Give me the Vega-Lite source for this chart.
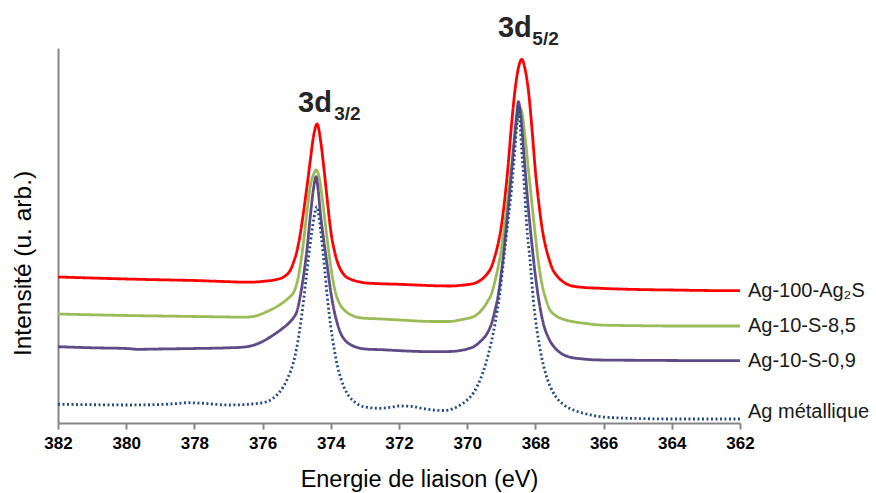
{
  "$schema": "https://vega.github.io/schema/vega-lite/v6.json",
  "width": 682,
  "height": 375,
  "autosize": {"type": "none"},
  "padding": {"left": 58, "top": 48, "right": 136, "bottom": 70},
  "background": "white",
  "config": {"view": {"stroke": null}, "font": "Liberation Sans"},
  "datasets": {
    "spectra": [
      {"series": "Ag-100-Ag₂S", "E": 382, "v": 146}, {"series": "Ag-100-Ag₂S", "E": 381, "v": 145}, {"series": "Ag-100-Ag₂S", "E": 380, "v": 144}, {"series": "Ag-100-Ag₂S", "E": 379, "v": 143.2}, {"series": "Ag-100-Ag₂S", "E": 378, "v": 142.5}, {"series": "Ag-100-Ag₂S", "E": 377, "v": 141.3}, {"series": "Ag-100-Ag₂S", "E": 376.5, "v": 140.8}, {"series": "Ag-100-Ag₂S", "E": 376.2, "v": 141}, {"series": "Ag-100-Ag₂S", "E": 376.0, "v": 141.6}, {"series": "Ag-100-Ag₂S", "E": 375.8, "v": 142.3}, {"series": "Ag-100-Ag₂S", "E": 375.6, "v": 143.4}, {"series": "Ag-100-Ag₂S", "E": 375.4, "v": 145.7}, {"series": "Ag-100-Ag₂S", "E": 375.3, "v": 148.1}, {"series": "Ag-100-Ag₂S", "E": 375.2, "v": 152}, {"series": "Ag-100-Ag₂S", "E": 375.1, "v": 160}, {"series": "Ag-100-Ag₂S", "E": 375.0, "v": 171}, {"series": "Ag-100-Ag₂S", "E": 374.9, "v": 188}, {"series": "Ag-100-Ag₂S", "E": 374.8, "v": 211}, {"series": "Ag-100-Ag₂S", "E": 374.7, "v": 236}, {"series": "Ag-100-Ag₂S", "E": 374.6, "v": 263}, {"series": "Ag-100-Ag₂S", "E": 374.5, "v": 288}, {"series": "Ag-100-Ag₂S", "E": 374.4, "v": 299}, {"series": "Ag-100-Ag₂S", "E": 374.3, "v": 282.5}, {"series": "Ag-100-Ag₂S", "E": 374.2, "v": 254}, {"series": "Ag-100-Ag₂S", "E": 374.1, "v": 222}, {"series": "Ag-100-Ag₂S", "E": 374.0, "v": 192}, {"series": "Ag-100-Ag₂S", "E": 373.9, "v": 173}, {"series": "Ag-100-Ag₂S", "E": 373.8, "v": 160.5}, {"series": "Ag-100-Ag₂S", "E": 373.7, "v": 152.5}, {"series": "Ag-100-Ag₂S", "E": 373.6, "v": 147.7}, {"series": "Ag-100-Ag₂S", "E": 373.4, "v": 143.6}, {"series": "Ag-100-Ag₂S", "E": 373.2, "v": 141.4}, {"series": "Ag-100-Ag₂S", "E": 373.0, "v": 140.2}, {"series": "Ag-100-Ag₂S", "E": 372.5, "v": 139.2}, {"series": "Ag-100-Ag₂S", "E": 372, "v": 138.7}, {"series": "Ag-100-Ag₂S", "E": 371.5, "v": 138}, {"series": "Ag-100-Ag₂S", "E": 371, "v": 137.3}, {"series": "Ag-100-Ag₂S", "E": 370.5, "v": 137}, {"series": "Ag-100-Ag₂S", "E": 370.1, "v": 138}, {"series": "Ag-100-Ag₂S", "E": 369.8, "v": 139.6}, {"series": "Ag-100-Ag₂S", "E": 369.6, "v": 143}, {"series": "Ag-100-Ag₂S", "E": 369.4, "v": 149.8}, {"series": "Ag-100-Ag₂S", "E": 369.3, "v": 155.3}, {"series": "Ag-100-Ag₂S", "E": 369.2, "v": 165.3}, {"series": "Ag-100-Ag₂S", "E": 369.1, "v": 178.3}, {"series": "Ag-100-Ag₂S", "E": 369.0, "v": 196.3}, {"series": "Ag-100-Ag₂S", "E": 368.9, "v": 223.3}, {"series": "Ag-100-Ag₂S", "E": 368.8, "v": 257.3}, {"series": "Ag-100-Ag₂S", "E": 368.7, "v": 298.3}, {"series": "Ag-100-Ag₂S", "E": 368.6, "v": 332.3}, {"series": "Ag-100-Ag₂S", "E": 368.5, "v": 354.8}, {"series": "Ag-100-Ag₂S", "E": 368.4, "v": 363.7}, {"series": "Ag-100-Ag₂S", "E": 368.3, "v": 353.5}, {"series": "Ag-100-Ag₂S", "E": 368.2, "v": 331}, {"series": "Ag-100-Ag₂S", "E": 368.1, "v": 294}, {"series": "Ag-100-Ag₂S", "E": 368.0, "v": 252}, {"series": "Ag-100-Ag₂S", "E": 367.9, "v": 220}, {"series": "Ag-100-Ag₂S", "E": 367.8, "v": 194}, {"series": "Ag-100-Ag₂S", "E": 367.7, "v": 176.5}, {"series": "Ag-100-Ag₂S", "E": 367.6, "v": 164}, {"series": "Ag-100-Ag₂S", "E": 367.5, "v": 154}, {"series": "Ag-100-Ag₂S", "E": 367.4, "v": 148.5}, {"series": "Ag-100-Ag₂S", "E": 367.2, "v": 141.5}, {"series": "Ag-100-Ag₂S", "E": 367.0, "v": 137.8}, {"series": "Ag-100-Ag₂S", "E": 366.7, "v": 135.9}, {"series": "Ag-100-Ag₂S", "E": 366.1, "v": 134.7}, {"series": "Ag-100-Ag₂S", "E": 365, "v": 133.5}, {"series": "Ag-100-Ag₂S", "E": 364, "v": 133}, {"series": "Ag-100-Ag₂S", "E": 363, "v": 132.5}, {"series": "Ag-100-Ag₂S", "E": 362, "v": 132.3},

      {"series": "Ag-10-S-8,5", "E": 382, "v": 109}, {"series": "Ag-10-S-8,5", "E": 381, "v": 108.2}, {"series": "Ag-10-S-8,5", "E": 380, "v": 107.5}, {"series": "Ag-10-S-8,5", "E": 379, "v": 107}, {"series": "Ag-10-S-8,5", "E": 378, "v": 106.5}, {"series": "Ag-10-S-8,5", "E": 377, "v": 106}, {"series": "Ag-10-S-8,5", "E": 376.6, "v": 105.8}, {"series": "Ag-10-S-8,5", "E": 376.4, "v": 106}, {"series": "Ag-10-S-8,5", "E": 376.2, "v": 107}, {"series": "Ag-10-S-8,5", "E": 376.0, "v": 109.5}, {"series": "Ag-10-S-8,5", "E": 375.8, "v": 112.5}, {"series": "Ag-10-S-8,5", "E": 375.6, "v": 116}, {"series": "Ag-10-S-8,5", "E": 375.4, "v": 120.5}, {"series": "Ag-10-S-8,5", "E": 375.2, "v": 126.2}, {"series": "Ag-10-S-8,5", "E": 375.1, "v": 130}, {"series": "Ag-10-S-8,5", "E": 375.0, "v": 139}, {"series": "Ag-10-S-8,5", "E": 374.9, "v": 156}, {"series": "Ag-10-S-8,5", "E": 374.8, "v": 181}, {"series": "Ag-10-S-8,5", "E": 374.7, "v": 211}, {"series": "Ag-10-S-8,5", "E": 374.6, "v": 237}, {"series": "Ag-10-S-8,5", "E": 374.5, "v": 249}, {"series": "Ag-10-S-8,5", "E": 374.43, "v": 253}, {"series": "Ag-10-S-8,5", "E": 374.35, "v": 247}, {"series": "Ag-10-S-8,5", "E": 374.25, "v": 224.6}, {"series": "Ag-10-S-8,5", "E": 374.15, "v": 196.2}, {"series": "Ag-10-S-8,5", "E": 374.05, "v": 168.5}, {"series": "Ag-10-S-8,5", "E": 373.95, "v": 145.4}, {"series": "Ag-10-S-8,5", "E": 373.85, "v": 128.9}, {"series": "Ag-10-S-8,5", "E": 373.75, "v": 120}, {"series": "Ag-10-S-8,5", "E": 373.6, "v": 112.8}, {"series": "Ag-10-S-8,5", "E": 373.4, "v": 108}, {"series": "Ag-10-S-8,5", "E": 373.1, "v": 105}, {"series": "Ag-10-S-8,5", "E": 372.5, "v": 104}, {"series": "Ag-10-S-8,5", "E": 371.97, "v": 103}, {"series": "Ag-10-S-8,5", "E": 371, "v": 101.5}, {"series": "Ag-10-S-8,5", "E": 370.5, "v": 101.5}, {"series": "Ag-10-S-8,5", "E": 370.2, "v": 103.2}, {"series": "Ag-10-S-8,5", "E": 370.0, "v": 104.5}, {"series": "Ag-10-S-8,5", "E": 369.8, "v": 106.6}, {"series": "Ag-10-S-8,5", "E": 369.6, "v": 112}, {"series": "Ag-10-S-8,5", "E": 369.4, "v": 121.7}, {"series": "Ag-10-S-8,5", "E": 369.3, "v": 128.1}, {"series": "Ag-10-S-8,5", "E": 369.2, "v": 139.8}, {"series": "Ag-10-S-8,5", "E": 369.1, "v": 154.8}, {"series": "Ag-10-S-8,5", "E": 369.0, "v": 173.9}, {"series": "Ag-10-S-8,5", "E": 368.9, "v": 199.5}, {"series": "Ag-10-S-8,5", "E": 368.8, "v": 229.3}, {"series": "Ag-10-S-8,5", "E": 368.7, "v": 257}, {"series": "Ag-10-S-8,5", "E": 368.6, "v": 284.7}, {"series": "Ag-10-S-8,5", "E": 368.5, "v": 309.2}, {"series": "Ag-10-S-8,5", "E": 368.45, "v": 314.7}, {"series": "Ag-10-S-8,5", "E": 368.4, "v": 311.2}, {"series": "Ag-10-S-8,5", "E": 368.3, "v": 285.2}, {"series": "Ag-10-S-8,5", "E": 368.2, "v": 251.6}, {"series": "Ag-10-S-8,5", "E": 368.1, "v": 219}, {"series": "Ag-10-S-8,5", "E": 368.0, "v": 187}, {"series": "Ag-10-S-8,5", "E": 367.9, "v": 158}, {"series": "Ag-10-S-8,5", "E": 367.8, "v": 137.6}, {"series": "Ag-10-S-8,5", "E": 367.7, "v": 124.6}, {"series": "Ag-10-S-8,5", "E": 367.6, "v": 114.9}, {"series": "Ag-10-S-8,5", "E": 367.4, "v": 107.3}, {"series": "Ag-10-S-8,5", "E": 367.2, "v": 104}, {"series": "Ag-10-S-8,5", "E": 366.9, "v": 101.4}, {"series": "Ag-10-S-8,5", "E": 366.5, "v": 99.5}, {"series": "Ag-10-S-8,5", "E": 366.1, "v": 98}, {"series": "Ag-10-S-8,5", "E": 365, "v": 97.3}, {"series": "Ag-10-S-8,5", "E": 364, "v": 97}, {"series": "Ag-10-S-8,5", "E": 363, "v": 97}, {"series": "Ag-10-S-8,5", "E": 362, "v": 97},

      {"series": "Ag-10-S-0,9", "E": 382, "v": 76.3}, {"series": "Ag-10-S-0,9", "E": 381, "v": 75.2}, {"series": "Ag-10-S-0,9", "E": 380, "v": 74.5}, {"series": "Ag-10-S-0,9", "E": 379.65, "v": 73.7}, {"series": "Ag-10-S-0,9", "E": 379, "v": 74}, {"series": "Ag-10-S-0,9", "E": 378, "v": 74.5}, {"series": "Ag-10-S-0,9", "E": 377, "v": 75.2}, {"series": "Ag-10-S-0,9", "E": 376.6, "v": 75.8}, {"series": "Ag-10-S-0,9", "E": 376.3, "v": 77.5}, {"series": "Ag-10-S-0,9", "E": 376.0, "v": 81.5}, {"series": "Ag-10-S-0,9", "E": 375.8, "v": 85.5}, {"series": "Ag-10-S-0,9", "E": 375.6, "v": 90}, {"series": "Ag-10-S-0,9", "E": 375.4, "v": 95}, {"series": "Ag-10-S-0,9", "E": 375.2, "v": 101}, {"series": "Ag-10-S-0,9", "E": 375.1, "v": 105}, {"series": "Ag-10-S-0,9", "E": 375.0, "v": 111}, {"series": "Ag-10-S-0,9", "E": 374.9, "v": 126}, {"series": "Ag-10-S-0,9", "E": 374.8, "v": 147}, {"series": "Ag-10-S-0,9", "E": 374.7, "v": 173}, {"series": "Ag-10-S-0,9", "E": 374.6, "v": 207}, {"series": "Ag-10-S-0,9", "E": 374.5, "v": 236}, {"series": "Ag-10-S-0,9", "E": 374.43, "v": 246.3}, {"series": "Ag-10-S-0,9", "E": 374.38, "v": 236}, {"series": "Ag-10-S-0,9", "E": 374.3, "v": 208}, {"series": "Ag-10-S-0,9", "E": 374.2, "v": 181}, {"series": "Ag-10-S-0,9", "E": 374.1, "v": 156}, {"series": "Ag-10-S-0,9", "E": 374.0, "v": 131}, {"series": "Ag-10-S-0,9", "E": 373.9, "v": 112}, {"series": "Ag-10-S-0,9", "E": 373.8, "v": 98.5}, {"series": "Ag-10-S-0,9", "E": 373.7, "v": 89}, {"series": "Ag-10-S-0,9", "E": 373.6, "v": 83.5}, {"series": "Ag-10-S-0,9", "E": 373.4, "v": 78}, {"series": "Ag-10-S-0,9", "E": 373.2, "v": 75.3}, {"series": "Ag-10-S-0,9", "E": 373.0, "v": 74}, {"series": "Ag-10-S-0,9", "E": 372.5, "v": 73.3}, {"series": "Ag-10-S-0,9", "E": 371.97, "v": 72.3}, {"series": "Ag-10-S-0,9", "E": 371, "v": 71.3}, {"series": "Ag-10-S-0,9", "E": 370.5, "v": 71.5}, {"series": "Ag-10-S-0,9", "E": 370.2, "v": 72.5}, {"series": "Ag-10-S-0,9", "E": 370.0, "v": 74}, {"series": "Ag-10-S-0,9", "E": 369.8, "v": 76.5}, {"series": "Ag-10-S-0,9", "E": 369.6, "v": 82}, {"series": "Ag-10-S-0,9", "E": 369.4, "v": 90.5}, {"series": "Ag-10-S-0,9", "E": 369.3, "v": 98}, {"series": "Ag-10-S-0,9", "E": 369.2, "v": 110.5}, {"series": "Ag-10-S-0,9", "E": 369.1, "v": 126}, {"series": "Ag-10-S-0,9", "E": 369.0, "v": 150}, {"series": "Ag-10-S-0,9", "E": 368.9, "v": 180}, {"series": "Ag-10-S-0,9", "E": 368.8, "v": 214}, {"series": "Ag-10-S-0,9", "E": 368.7, "v": 251}, {"series": "Ag-10-S-0,9", "E": 368.6, "v": 291}, {"series": "Ag-10-S-0,9", "E": 368.55, "v": 308}, {"series": "Ag-10-S-0,9", "E": 368.5, "v": 321.3}, {"series": "Ag-10-S-0,9", "E": 368.45, "v": 314}, {"series": "Ag-10-S-0,9", "E": 368.4, "v": 297}, {"series": "Ag-10-S-0,9", "E": 368.35, "v": 275}, {"series": "Ag-10-S-0,9", "E": 368.3, "v": 253}, {"series": "Ag-10-S-0,9", "E": 368.21, "v": 216}, {"series": "Ag-10-S-0,9", "E": 368.1, "v": 178}, {"series": "Ag-10-S-0,9", "E": 368.01, "v": 150}, {"series": "Ag-10-S-0,9", "E": 367.9, "v": 123}, {"series": "Ag-10-S-0,9", "E": 367.77, "v": 100}, {"series": "Ag-10-S-0,9", "E": 367.6, "v": 84}, {"series": "Ag-10-S-0,9", "E": 367.45, "v": 76}, {"series": "Ag-10-S-0,9", "E": 367.28, "v": 70.5}, {"series": "Ag-10-S-0,9", "E": 367.0, "v": 66}, {"series": "Ag-10-S-0,9", "E": 366.6, "v": 64}, {"series": "Ag-10-S-0,9", "E": 366.1, "v": 63}, {"series": "Ag-10-S-0,9", "E": 365, "v": 62.7}, {"series": "Ag-10-S-0,9", "E": 364, "v": 62.5}, {"series": "Ag-10-S-0,9", "E": 363, "v": 62.4}, {"series": "Ag-10-S-0,9", "E": 362, "v": 62.3},

      {"series": "Ag métallique", "E": 382, "v": 18.7}, {"series": "Ag métallique", "E": 381, "v": 18.3}, {"series": "Ag métallique", "E": 380, "v": 18}, {"series": "Ag métallique", "E": 379, "v": 18.5}, {"series": "Ag métallique", "E": 378.5, "v": 19.5}, {"series": "Ag métallique", "E": 378.2, "v": 20.3}, {"series": "Ag métallique", "E": 377.8, "v": 19.8}, {"series": "Ag métallique", "E": 377.5, "v": 19}, {"series": "Ag métallique", "E": 377, "v": 18}, {"series": "Ag métallique", "E": 376.6, "v": 18.3}, {"series": "Ag métallique", "E": 376.3, "v": 19}, {"series": "Ag métallique", "E": 376.05, "v": 20}, {"series": "Ag métallique", "E": 375.88, "v": 21.3}, {"series": "Ag métallique", "E": 375.7, "v": 24.5}, {"series": "Ag métallique", "E": 375.5, "v": 31}, {"series": "Ag métallique", "E": 375.39, "v": 36.3}, {"series": "Ag métallique", "E": 375.25, "v": 46}, {"series": "Ag métallique", "E": 375.1, "v": 60}, {"series": "Ag métallique", "E": 375.0, "v": 75}, {"series": "Ag métallique", "E": 374.9, "v": 96}, {"series": "Ag métallique", "E": 374.8, "v": 122}, {"series": "Ag métallique", "E": 374.7, "v": 152}, {"series": "Ag métallique", "E": 374.6, "v": 180}, {"series": "Ag métallique", "E": 374.5, "v": 204}, {"series": "Ag métallique", "E": 374.41, "v": 216.3}, {"series": "Ag métallique", "E": 374.34, "v": 205}, {"series": "Ag métallique", "E": 374.27, "v": 184}, {"series": "Ag métallique", "E": 374.18, "v": 154}, {"series": "Ag métallique", "E": 374.1, "v": 125}, {"series": "Ag métallique", "E": 374.0, "v": 96}, {"series": "Ag métallique", "E": 373.9, "v": 74}, {"series": "Ag métallique", "E": 373.8, "v": 56}, {"series": "Ag métallique", "E": 373.7, "v": 44}, {"series": "Ag métallique", "E": 373.53, "v": 30}, {"series": "Ag métallique", "E": 373.3, "v": 21}, {"series": "Ag métallique", "E": 373.05, "v": 16.3}, {"series": "Ag métallique", "E": 372.56, "v": 14.7}, {"series": "Ag métallique", "E": 372.2, "v": 16}, {"series": "Ag métallique", "E": 372, "v": 17}, {"series": "Ag métallique", "E": 371.6, "v": 16.5}, {"series": "Ag métallique", "E": 371.3, "v": 14.5}, {"series": "Ag métallique", "E": 371, "v": 13}, {"series": "Ag métallique", "E": 370.7, "v": 12.5}, {"series": "Ag métallique", "E": 370.4, "v": 14.5}, {"series": "Ag métallique", "E": 370.2, "v": 18}, {"series": "Ag métallique", "E": 370.0, "v": 23}, {"series": "Ag métallique", "E": 369.8, "v": 31}, {"series": "Ag métallique", "E": 369.6, "v": 45}, {"series": "Ag métallique", "E": 369.45, "v": 60}, {"series": "Ag métallique", "E": 369.3, "v": 80}, {"series": "Ag métallique", "E": 369.18, "v": 100}, {"series": "Ag métallique", "E": 369.05, "v": 128}, {"series": "Ag métallique", "E": 368.9, "v": 173}, {"series": "Ag métallique", "E": 368.8, "v": 203}, {"series": "Ag métallique", "E": 368.7, "v": 234}, {"series": "Ag métallique", "E": 368.6, "v": 275}, {"series": "Ag métallique", "E": 368.55, "v": 297}, {"series": "Ag métallique", "E": 368.5, "v": 316}, {"series": "Ag métallique", "E": 368.45, "v": 300}, {"series": "Ag métallique", "E": 368.4, "v": 273}, {"series": "Ag métallique", "E": 368.33, "v": 240}, {"series": "Ag métallique", "E": 368.26, "v": 200}, {"series": "Ag métallique", "E": 368.15, "v": 160}, {"series": "Ag métallique", "E": 368.06, "v": 123}, {"series": "Ag métallique", "E": 367.95, "v": 92}, {"series": "Ag métallique", "E": 367.82, "v": 66.3}, {"series": "Ag métallique", "E": 367.65, "v": 44}, {"series": "Ag métallique", "E": 367.47, "v": 30}, {"series": "Ag métallique", "E": 367.2, "v": 19}, {"series": "Ag métallique", "E": 366.88, "v": 13}, {"series": "Ag métallique", "E": 366.5, "v": 9}, {"series": "Ag métallique", "E": 366.1, "v": 6.3}, {"series": "Ag métallique", "E": 365.5, "v": 5}, {"series": "Ag métallique", "E": 365, "v": 4.5}, {"series": "Ag métallique", "E": 364, "v": 4}, {"series": "Ag métallique", "E": 363, "v": 4}, {"series": "Ag métallique", "E": 362, "v": 4}
    ]
  },
  "layer": [
    {
      "data": {"name": "spectra"},
      "mark": {"type": "line", "interpolate": "monotone", "strokeWidth": 2.8},
      "encoding": {
        "x": {
          "field": "E", "type": "quantitative",
          "scale": {"domain": [362, 382], "reverse": true, "nice": false, "zero": false},
          "axis": {
            "values": [382, 380, 378, 376, 374, 372, 370, 368, 366, 364, 362],
            "format": "d", "grid": false,
            "domainColor": "#868686", "domainWidth": 2,
            "tickColor": "#868686", "tickWidth": 2, "tickSize": 6,
            "labelFont": "Liberation Sans", "labelFontWeight": "bold", "labelFontSize": 17,
            "labelColor": "#000000", "labelPadding": 6, "labelFlush": false, "labelOverlap": false,
            "title": "Energie de liaison (eV)",
            "titleFont": "Liberation Sans", "titleFontSize": 23.5, "titleFontWeight": "normal", "titleColor": "#000000",
            "titleX": 361, "titleY": 63, "titleAlign": "center", "titleBaseline": "alphabetic"
          }
        },
        "y": {
          "field": "v", "type": "quantitative",
          "scale": {"domain": [0, 375], "nice": false, "zero": true},
          "axis": {
            "title": "Intensité (u. arb.)", "ticks": false, "labels": false, "grid": false,
            "domainColor": "#868686", "domainWidth": 2,
            "titleFont": "Liberation Sans", "titleFontSize": 24.5, "titleFontWeight": "normal", "titleColor": "#000000",
            "titleX": -35, "titleY": 215, "titleAlign": "center", "titleBaseline": "middle", "titleAngle": -90
          }
        },
        "color": {
          "field": "series", "type": "nominal",
          "scale": {"domain": ["Ag-100-Ag₂S", "Ag-10-S-8,5", "Ag-10-S-0,9", "Ag métallique"], "range": ["#FF0000", "#9BBB59", "#5E4A87", "#234B82"]},
          "legend": null
        },
        "strokeDash": {
          "field": "series", "type": "nominal",
          "scale": {"domain": ["Ag-100-Ag₂S", "Ag-10-S-8,5", "Ag-10-S-0,9", "Ag métallique"], "range": [[1, 0], [1, 0], [1, 0], [2, 2.5]]},
          "legend": null
        }
      }
    },
    {
      "data": {"name": "spectra"},
      "transform": [{"filter": "datum.E == 362 && datum.series != 'Ag métallique'"}],
      "mark": {"type": "text", "align": "left", "baseline": "middle", "dx": 8, "font": "Liberation Sans", "fontSize": 20, "color": "#1a1a1a"},
      "encoding": {
        "x": {"field": "E", "type": "quantitative"},
        "y": {"field": "v", "type": "quantitative"},
        "text": {"field": "series", "type": "nominal"}
      }
    },
    {
      "data": {"values": [{}]},
      "mark": {"type": "text", "align": "left", "baseline": "middle", "dx": 8, "font": "Liberation Sans", "fontSize": 20, "color": "#1a1a1a"},
      "encoding": {
        "x": {"datum": 362, "type": "quantitative"},
        "y": {"datum": 11, "type": "quantitative"},
        "text": {"value": "Ag métallique"}
      }
    },
    {
      "data": {"values": [{}]},
      "mark": {"type": "text", "align": "left", "baseline": "alphabetic", "font": "Liberation Sans", "fontWeight": "bold", "fontSize": 29, "color": "#262626"},
      "encoding": {
        "x": {"datum": 374.96, "type": "quantitative"},
        "y": {"datum": 311, "type": "quantitative"},
        "text": {"value": "3d"}
      }
    },
    {
      "data": {"values": [{}]},
      "mark": {"type": "text", "align": "left", "baseline": "alphabetic", "font": "Liberation Sans", "fontWeight": "bold", "fontSize": 19, "color": "#262626"},
      "encoding": {
        "x": {"datum": 373.9, "type": "quantitative"},
        "y": {"datum": 303, "type": "quantitative"},
        "text": {"value": "3/2"}
      }
    },
    {
      "data": {"values": [{}]},
      "mark": {"type": "text", "align": "left", "baseline": "alphabetic", "font": "Liberation Sans", "fontWeight": "bold", "fontSize": 29, "color": "#262626"},
      "encoding": {
        "x": {"datum": 369.1, "type": "quantitative"},
        "y": {"datum": 386, "type": "quantitative"},
        "text": {"value": "3d"}
      }
    },
    {
      "data": {"values": [{}]},
      "mark": {"type": "text", "align": "left", "baseline": "alphabetic", "font": "Liberation Sans", "fontWeight": "bold", "fontSize": 19, "color": "#262626"},
      "encoding": {
        "x": {"datum": 368.09, "type": "quantitative"},
        "y": {"datum": 378, "type": "quantitative"},
        "text": {"value": "5/2"}
      }
    }
  ]
}
